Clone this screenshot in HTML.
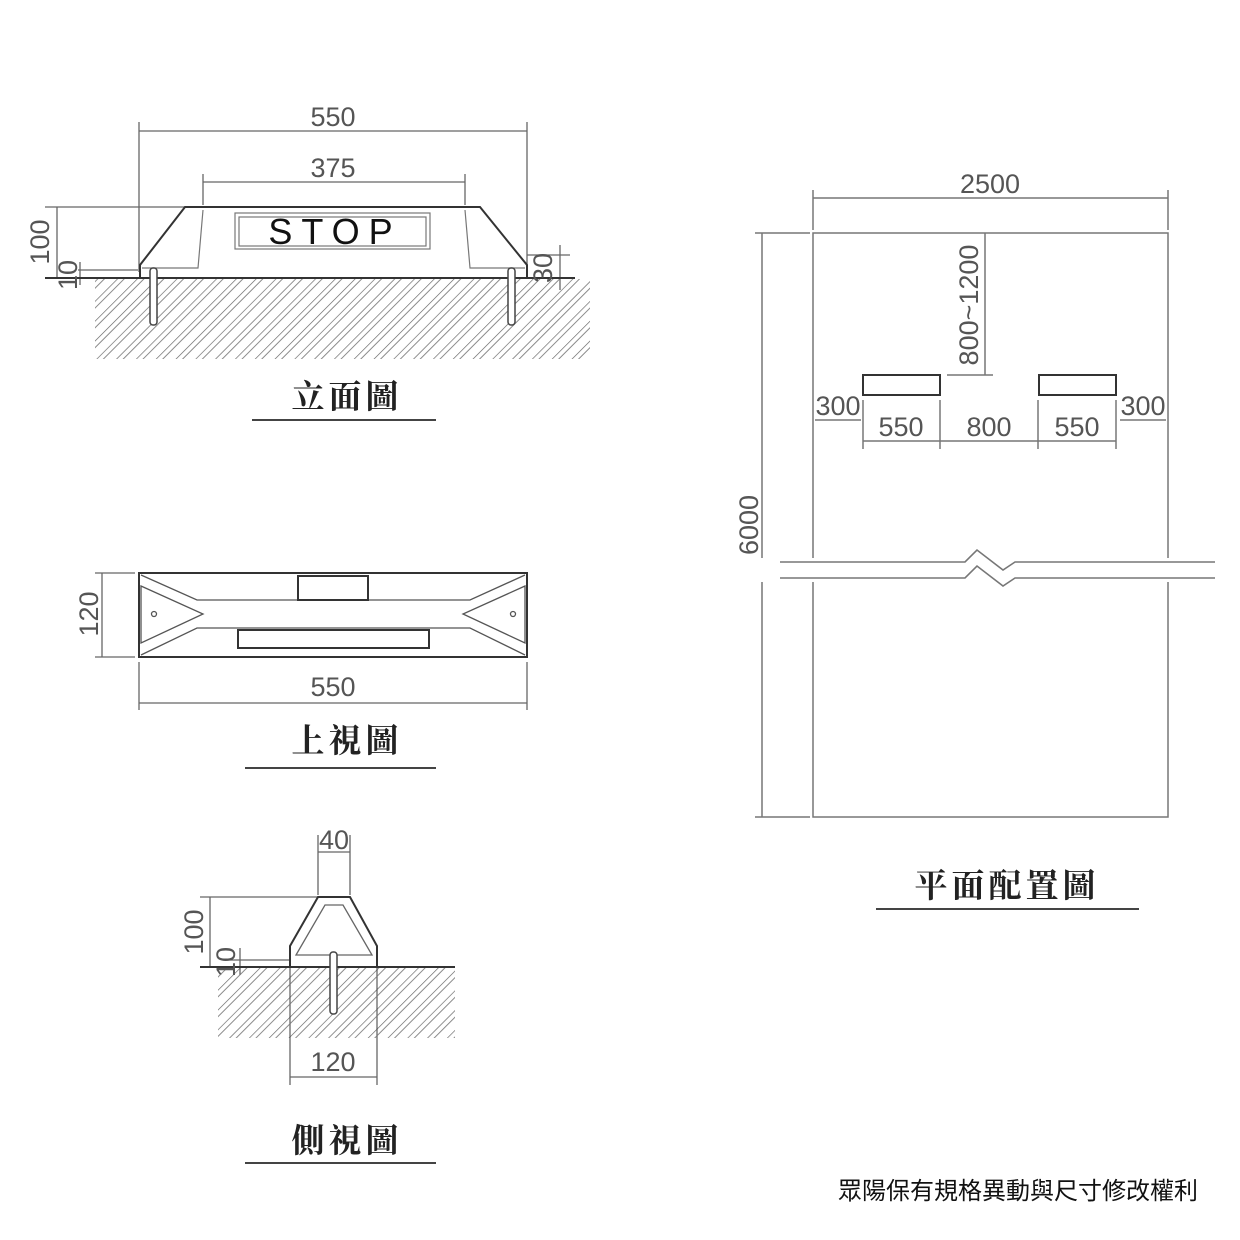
<!DOCTYPE html>
<html><head><meta charset="utf-8"><style>
body{margin:0;background:#fff;}
svg{display:block}
.d{font-family:"Liberation Sans",sans-serif;font-size:27px;fill:#555;}
.t{font-family:"Liberation Serif","Noto Serif CJK SC",serif;font-size:33px;font-weight:bold;fill:#222;letter-spacing:4px;}
</style></head><body>
<svg width="1240" height="1240" viewBox="0 0 1240 1240" xmlns="http://www.w3.org/2000/svg">
<defs>
<pattern id="h" width="14" height="14" patternUnits="userSpaceOnUse" patternTransform="rotate(45)">
<line x1="0" y1="0" x2="0" y2="14" stroke="#444" stroke-width="1.3"/>
<line x1="5" y1="0" x2="5" y2="14" stroke="#777" stroke-width="1"/>
</pattern>
</defs>
<g stroke="#666" stroke-width="1.3" fill="none">
<line x1="139" y1="122" x2="139" y2="272"/><line x1="527" y1="122" x2="527" y2="272"/>
<line x1="139" y1="131" x2="527" y2="131"/>
<line x1="203" y1="174" x2="203" y2="205"/><line x1="465" y1="174" x2="465" y2="205"/>
<line x1="203" y1="182" x2="465" y2="182"/>
<line x1="45" y1="207" x2="185" y2="207"/>
<line x1="57" y1="207" x2="57" y2="278"/>
<line x1="80" y1="262" x2="80" y2="285"/><line x1="78" y1="270" x2="138" y2="270"/>
<line x1="527" y1="255" x2="570" y2="255"/><line x1="560" y1="245" x2="560" y2="290"/>
</g>
<rect x="95" y="279" width="495" height="80" fill="url(#h)" opacity="0.85"/>
<g stroke="#333" stroke-width="2" fill="#fff">
<path d="M140 278 L140 265 L185 207 L480 207 L527 265 L527 278 Z"/>
</g>
<g stroke="#777" stroke-width="1.2" fill="none">
<path d="M203 210 L198 268 L142 268"/><path d="M465 210 L470 268 L525 268"/>
<rect x="235" y="213" width="195" height="36"/>
<rect x="239" y="217" width="187" height="29"/>
</g>
<text x="335" y="244" font-family="Liberation Sans,sans-serif" font-size="36" fill="#111" text-anchor="middle" letter-spacing="9">STOP</text>
<line x1="45" y1="278" x2="575" y2="278" stroke="#333" stroke-width="2"/>
<g stroke="#444" stroke-width="1.5" fill="#fff">
<rect x="150" y="268" width="7" height="57" rx="3"/><rect x="508" y="268" width="7" height="57" rx="3"/>
</g>
<text class="d" x="333" y="126" text-anchor="middle">550</text>
<text class="d" x="333" y="177" text-anchor="middle">375</text>
<text class="d" transform="translate(49,242) rotate(-90)" text-anchor="middle">100</text>
<text class="d" transform="translate(77,275) rotate(-90)" text-anchor="middle">10</text>
<text class="d" transform="translate(552,268) rotate(-90)" text-anchor="middle">30</text>
<text class="t" x="347" y="408" text-anchor="middle">立面圖</text>
<line x1="252" y1="420" x2="436" y2="420" stroke="#444" stroke-width="2"/>

<g stroke="#666" stroke-width="1.3" fill="none">
<line x1="95" y1="573" x2="135" y2="573"/><line x1="95" y1="657" x2="135" y2="657"/>
<line x1="102" y1="573" x2="102" y2="657"/>
<line x1="139" y1="662" x2="139" y2="710"/><line x1="527" y1="662" x2="527" y2="710"/>
<line x1="139" y1="703" x2="527" y2="703"/>
</g>
<rect x="139" y="573" width="388" height="84" fill="#fff" stroke="#333" stroke-width="2"/>
<g stroke="#555" stroke-width="1.3" fill="none">
<path d="M141 575 L197 600 L430 600"/><path d="M141 655 L197 628 L430 628"/>
<path d="M141 586 L203 614 L141 643 Z"/>
<path d="M525 575 L470 600 L430 600"/><path d="M525 655 L470 628 L430 628"/>
<path d="M525 586 L463 614 L525 643 Z"/>
<circle cx="154" cy="614" r="2.5"/><circle cx="513" cy="614" r="2.5"/>
</g>
<rect x="298" y="576" width="70" height="24" fill="#fff" stroke="#333" stroke-width="2"/>
<rect x="238" y="630" width="191" height="18" fill="#fff" stroke="#333" stroke-width="2"/>
<text class="d" transform="translate(98,614) rotate(-90)" text-anchor="middle">120</text>
<text class="d" x="333" y="696" text-anchor="middle">550</text>
<text class="t" x="347" y="752" text-anchor="middle">上視圖</text>
<line x1="245" y1="768" x2="436" y2="768" stroke="#444" stroke-width="2"/>

<g stroke="#666" stroke-width="1.3" fill="none">
<line x1="318" y1="835" x2="318" y2="895"/><line x1="350" y1="835" x2="350" y2="895"/>
<line x1="318" y1="852" x2="350" y2="852"/>
<line x1="200" y1="897" x2="320" y2="897"/>
<line x1="210" y1="897" x2="210" y2="967"/>
<line x1="240" y1="948" x2="240" y2="975"/><line x1="230" y1="960" x2="290" y2="960"/>
<line x1="290" y1="967" x2="290" y2="1085"/><line x1="377" y1="967" x2="377" y2="1085"/>
<line x1="290" y1="1077" x2="377" y2="1077"/>
</g>
<rect x="218" y="968" width="237" height="70" fill="url(#h)" opacity="0.85"/>
<path d="M290 967 L290 946 L318 897 L350 897 L377 946 L377 967 Z" fill="#fff" stroke="#333" stroke-width="2"/>
<path d="M296 955 L325 905 L343 905 L372 955 Z" fill="none" stroke="#666" stroke-width="1.3"/>
<line x1="200" y1="967" x2="455" y2="967" stroke="#333" stroke-width="2"/>
<rect x="330" y="952" width="7" height="62" rx="3" fill="#fff" stroke="#444" stroke-width="1.5"/>
<text class="d" x="334" y="849" text-anchor="middle">40</text>
<text class="d" transform="translate(203,932) rotate(-90)" text-anchor="middle">100</text>
<text class="d" transform="translate(235,962) rotate(-90)" text-anchor="middle">10</text>
<text class="d" x="333" y="1071" text-anchor="middle">120</text>
<text class="t" x="347" y="1152" text-anchor="middle">側視圖</text>
<line x1="245" y1="1163" x2="436" y2="1163" stroke="#444" stroke-width="2"/>

<g stroke="#777" stroke-width="1.5" fill="none">
<line x1="813" y1="190" x2="813" y2="230"/><line x1="1168" y1="190" x2="1168" y2="230"/>
<line x1="813" y1="198" x2="1168" y2="198"/>
<rect x="813" y="233" width="355" height="584"/>
<line x1="755" y1="233" x2="810" y2="233"/><line x1="755" y1="817" x2="810" y2="817"/>
<line x1="762" y1="233" x2="762" y2="817"/>
<line x1="985" y1="233" x2="985" y2="375"/><line x1="947" y1="375" x2="993" y2="375"/>
<line x1="815" y1="420" x2="861" y2="420"/><line x1="1120" y1="420" x2="1166" y2="420"/>
<line x1="863" y1="400" x2="863" y2="449"/><line x1="940" y1="400" x2="940" y2="449"/>
<line x1="1038" y1="400" x2="1038" y2="449"/><line x1="1116" y1="400" x2="1116" y2="449"/>
<line x1="863" y1="441" x2="1116" y2="441"/>
</g>
<rect x="760" y="558" width="460" height="24" fill="#fff"/>
<path d="M780 562 L965 562 L977 550 L1003 570 L1015 562 L1215 562" fill="none" stroke="#777" stroke-width="1.6"/>
<path d="M780 578 L965 578 L977 566 L1003 586 L1015 578 L1215 578" fill="none" stroke="#777" stroke-width="1.6"/>
<rect x="863" y="375" width="77" height="20" fill="#fff" stroke="#333" stroke-width="2"/>
<rect x="1039" y="375" width="77" height="20" fill="#fff" stroke="#333" stroke-width="2"/>
<text class="d" x="990" y="193" text-anchor="middle">2500</text>
<text class="d" transform="translate(978,305) rotate(-90)" text-anchor="middle">800~1200</text>
<text class="d" transform="translate(758,525) rotate(-90)" text-anchor="middle">6000</text>
<text class="d" x="838" y="415" text-anchor="middle">300</text>
<text class="d" x="1143" y="415" text-anchor="middle">300</text>
<text class="d" x="901" y="436" text-anchor="middle">550</text>
<text class="d" x="989" y="436" text-anchor="middle">800</text>
<text class="d" x="1077" y="436" text-anchor="middle">550</text>
<text class="t" x="1007" y="897" text-anchor="middle">平面配置圖</text>
<line x1="876" y1="909" x2="1139" y2="909" stroke="#444" stroke-width="2"/>
<text x="1198" y="1199" text-anchor="end" font-family="Liberation Sans,'Noto Sans CJK TC',sans-serif" font-size="24" fill="#111">眾陽保有規格異動與尺寸修改權利</text>
</svg>
</body></html>
